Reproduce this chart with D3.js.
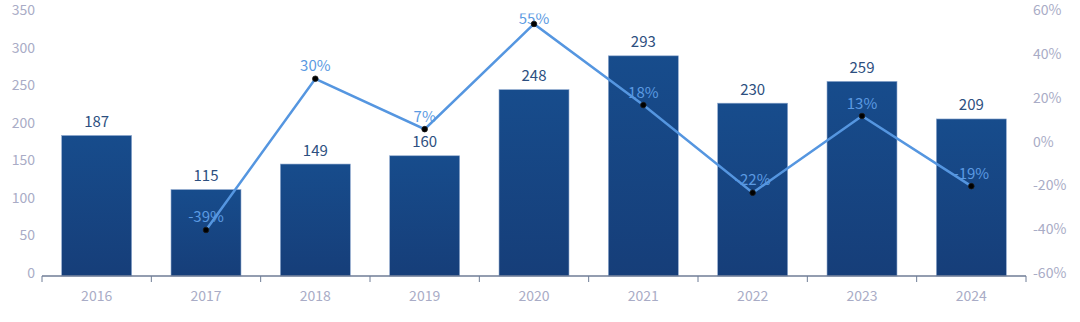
<!DOCTYPE html>
<html><head><meta charset="utf-8">
<script src="https://cdn.jsdelivr.net/npm/d3@7"></script>
<style>html,body{margin:0;padding:0;background:#fff;}svg{display:block;font-family:"Noto Sans CJK SC","Noto Sans",sans-serif;}</style>
</head><body>
<svg id="c" width="1080" height="322"></svg>
<script>
const years = ["2016","2017","2018","2019","2020","2021","2022","2023","2024"];
const values = [187,115,149,160,248,293,230,259,209];
const growth = [null,-39,30,7,55,18,-22,13,-19];
const leftTicks = [0,50,100,150,200,250,300,350];
const rightTicks = [-60,-40,-20,0,20,40,60];

const svg = d3.select("#c");
const L = 42, R = 1026, T = 13, B = 276;
const x = d3.scaleBand().domain(years).range([L, R]).paddingInner(0.36).paddingOuter(0.18);
const y = d3.scaleLinear().domain([0,350]).range([B, T]);
const y2 = d3.scaleLinear().domain([-60,60]).range([B, T]);

const defs = svg.append("defs");
const g = defs.append("linearGradient").attr("id","bg").attr("x1",0).attr("y1",0).attr("x2",0).attr("y2",1);
g.append("stop").attr("offset","0%").attr("stop-color","#174c8c");
g.append("stop").attr("offset","100%").attr("stop-color","#163e79");
defs.append("clipPath").attr("id","clip").append("rect").attr("x",0).attr("y",13.5).attr("width",1080).attr("height",310);

// left axis labels
svg.append("g").selectAll("text").data(leftTicks).join("text")
  .attr("x",35).attr("y",d=>y(d)-4).attr("text-anchor","end").attr("dominant-baseline","central")
  .attr("fill","#a9acc6").attr("font-size",14).text(d=>d);
// right axis labels
svg.append("g").selectAll("text").data(rightTicks).join("text")
  .attr("x",1033).attr("y",d=>y2(d)-4).attr("text-anchor","start").attr("dominant-baseline","central")
  .attr("fill","#a9acc6").attr("font-size",14).text(d=>d+"%");

// bars
svg.append("g").selectAll("rect").data(values).join("rect")
  .attr("x",(d,i)=>x(years[i])).attr("width",x.bandwidth())
  .attr("y",d=>y(d)).attr("height",d=>B-y(d))
  .attr("fill","url(#bg)").attr("stroke","#8fa9cf").attr("stroke-width",0.6);

// bar labels
svg.append("g").selectAll("text").data(values).join("text")
  .attr("x",(d,i)=>x(years[i])+x.bandwidth()/2).attr("y",d=>y(d)-15)
  .attr("text-anchor","middle").attr("dominant-baseline","central")
  .attr("fill","#2d4f80").attr("font-size",15).text(d=>d);

// x axis
const ax = svg.append("g").attr("transform",`translate(0,${B})`);
ax.append("line").attr("x1",L).attr("x2",R).attr("y1",0).attr("y2",0).attr("stroke","#6f7d96").attr("stroke-width",1.5);
const bounds = years.map(d=>x(d)-x.step()*x.paddingInner()/2).concat([R]);
bounds[0]=L;
ax.selectAll("line.t").data(bounds).join("line").attr("class","t")
  .attr("x1",d=>d).attr("x2",d=>d).attr("y1",0).attr("y2",6).attr("stroke","#6f7d96").attr("stroke-width",1);
ax.selectAll("text.xl").data(years).join("text").attr("class","xl")
  .attr("x",d=>x(d)+x.bandwidth()/2).attr("y",19).attr("text-anchor","middle").attr("dominant-baseline","central")
  .attr("fill","#a9acc6").attr("font-size",14).text(d=>d);

// growth
const pts = growth.map((v,i)=>({v,i})).filter(d=>d.v!==null);
const cx = d=>x(years[d.i])+x.bandwidth()/2;
const lg = svg.append("g").attr("clip-path","url(#clip)");
lg.selectAll("text").data(pts).join("text")
  .attr("x",cx).attr("y",d=>Math.max(y2(d.v)-14,17)).attr("text-anchor","middle").attr("dominant-baseline","central")
  .attr("fill","#5b9ae2").attr("font-size",15).text(d=>d.v+"%");
svg.append("path").datum(pts)
  .attr("d",d3.line().x(cx).y(d=>y2(d.v)))
  .attr("fill","none").attr("stroke","#5596e0").attr("stroke-width",2.5);
svg.append("g").selectAll("circle").data(pts).join("circle")
  .attr("cx",cx).attr("cy",d=>y2(d.v)).attr("r",2.8)
  .attr("fill","#000").attr("stroke","#1a1a1a").attr("stroke-width",0.8);
</script>
</body></html>
